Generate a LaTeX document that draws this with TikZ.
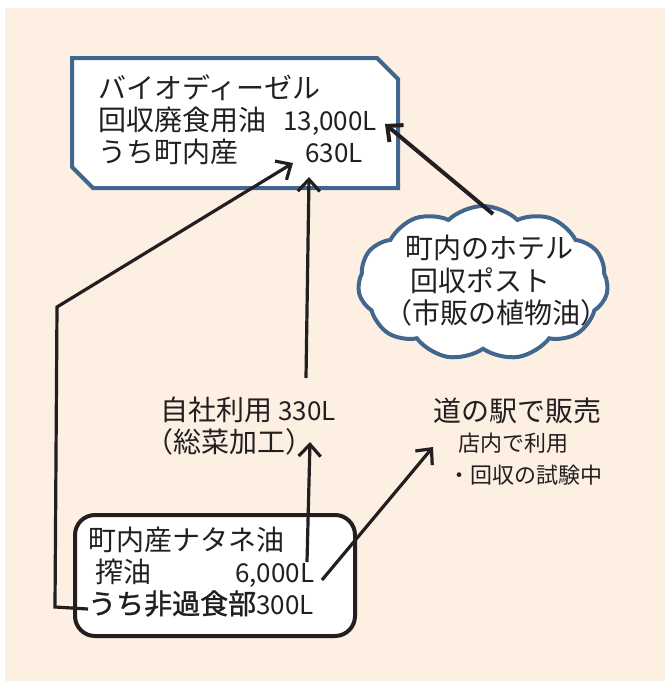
\documentclass[tikz,border=0pt]{standalone}
\usepackage{fontspec}
\setmainfont{Noto Sans CJK JP}
\newfontfamily\cjkbold[FakeBold=1.2]{Noto Sans CJK JP}
\usetikzlibrary{arrows.meta,shapes.symbols}
\definecolor{bgc}{RGB}{253,239,226}
\definecolor{bluec}{RGB}{66,103,142}
\definecolor{inkc}{RGB}{35,31,32}
\newcommand{\nm}[1]{{\fontsize{26}{26}\selectfont #1}}
\begin{document}
\begin{tikzpicture}[x=1pt,y=-1pt,
  txt/.style={anchor=base west, inner sep=0pt, font=\fontsize{28}{33}\selectfont, text=inkc},
  smalltxt/.style={txt, font=\fontsize{22}{26}\selectfont},
  conn/.style={draw=inkc, line width=3.2pt, -{Straight Barb[length=12pt,width=22pt]}},
  bluebox/.style={draw=bluec, fill=white, line width=4pt, inner sep=0pt},
 ]
\useasboundingbox (0,0) rectangle (665,681);
\fill[bgc] (5,8) rectangle (665,681);
% top box (cut corners)
\coordinate (bd1) at (72,58);
\coordinate (bd2) at (377,58);
\coordinate (bd3) at (398,79);
\coordinate (bd4) at (398,188);
\coordinate (bd5) at (93,188);
\coordinate (bd6) at (72,167);
\draw[bluebox, line join=miter] (bd1) -- (bd2) -- (bd3) -- (bd4) -- (bd5) -- (bd6) -- cycle;
\node[txt] (b1) at (98,98) {バイオディーゼル};
\node[txt] (b2) at (98,130) {回収廃食用油\hspace{17pt}\nm{13,000L}};
\node[txt] (b3) at (98,162) {\makebox[207pt][l]{うち町内産}\nm{630L}};
% cloud
\node[bluebox, cloud, cloud puffs=11, cloud puff arc=88, aspect=1.65,
  minimum width=250pt, minimum height=154pt] (cl) at (483,283) {};
\node[txt] (c1) at (405,258) {町内のホテル};
\node[txt] (c2) at (410,291) {回収ポスト};
\node[txt] (c3) at (384,323) {（市販の植物油）};
% middle texts
\node[txt] (j1) at (160,420) {自社利用 \nm{330L}};
\node[txt] (j2) at (145,452) {（総菜加工）};
\node[txt] (m1) at (433,421) {道の駅で販売};
\node[smalltxt] (m2) at (458,451) {店内で利用};
\node[smalltxt] (m3) at (448,483) {・回収の試験中};
% bottom box
\node[draw=inkc, fill=white, line width=4pt, rounded corners=20pt, inner sep=0pt,
  minimum width=280pt, minimum height=121pt] (bx) at (215,575.5) {};
\node[txt] (n1) at (88,550) {町内産ナタネ油};
\node[txt] (n2) at (95,582) {\makebox[140pt][l]{搾油}\nm{6,000L}};
\node[txt] (n3) at (88,614) {{\cjkbold うち非過食部}\nm{300L}};
% connectors
\coordinate (s1) at (493,214);
\coordinate (t1) at (385,124);
\coordinate (p0) at (88,609);
\coordinate (p1) at (55,607);
\coordinate (p2) at (57,307);
\coordinate (t2) at (293,163);
\coordinate (s3) at (306,378);
\coordinate (t3) at (309,177);
\coordinate (s4) at (307,562);
\coordinate (t4) at (310,442);
\coordinate (s5) at (322,580);
\coordinate (t5) at (433,447);
\draw[conn, line width=4pt] (s1) -- (t1);
\draw[conn] (p0) -- (p1) -- (p2) -- (t2);
\draw[conn] (s3) -- (t3);
\draw[conn] (s4) -- (t4);
\draw[conn] (s5) -- (t5);
\end{tikzpicture}
\end{document}
